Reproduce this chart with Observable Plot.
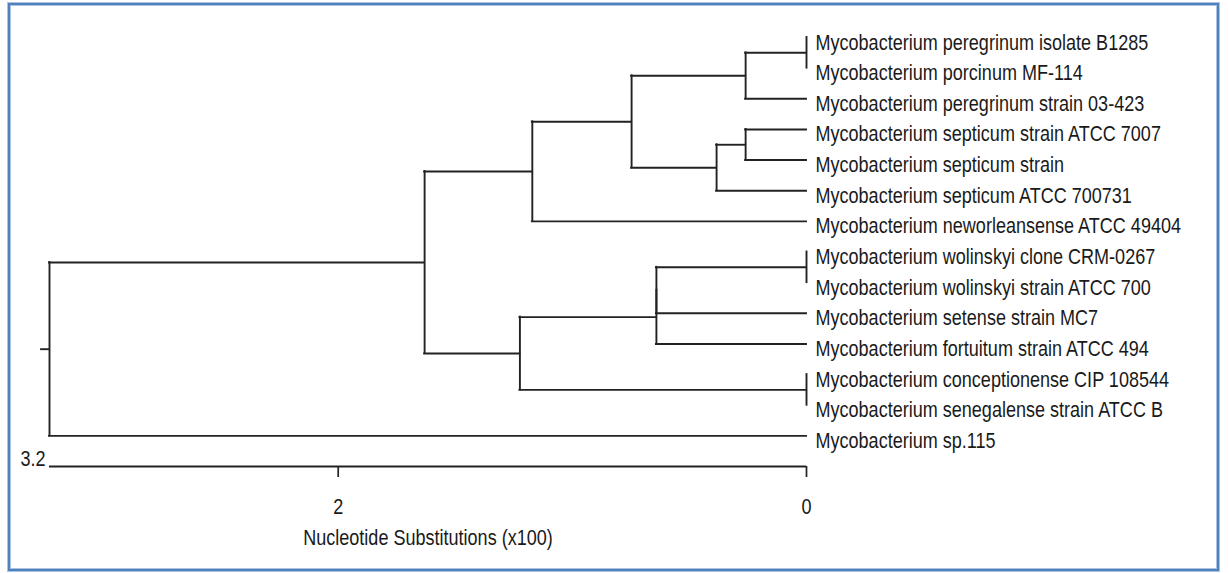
<!DOCTYPE html>
<html>
<head>
<meta charset="utf-8">
<script src="https://cdn.jsdelivr.net/npm/d3@7"></script>
<script src="https://cdn.jsdelivr.net/npm/@observablehq/plot@0.6"></script>
<style>
  html, body { margin: 0; padding: 0; background: #ffffff; }
  body { position: relative; width: 1229px; height: 573px; overflow: hidden; }
  #frame {
    position: absolute; left: 8px; top: 3px; width: 1211px; height: 568px;
    box-sizing: border-box; border: 2px solid #4f81bd;
    box-shadow: inset 0 0 0 1px #aac2e4, 0 0 0 1px #aac2e4;
  }
  #chart { position: absolute; left: 0; top: 0; }
</style>
</head>
<body>
<div id="frame"></div>
<div id="chart"></div>
<script>
// ---- Data ----
const taxa = [
  "Mycobacterium peregrinum isolate B1285",
  "Mycobacterium porcinum MF-114",
  "Mycobacterium peregrinum strain 03-423",
  "Mycobacterium septicum strain ATCC 7007",
  "Mycobacterium septicum strain",
  "Mycobacterium septicum ATCC 700731",
  "Mycobacterium neworleansense ATCC 49404",
  "Mycobacterium wolinskyi clone CRM-0267",
  "Mycobacterium wolinskyi strain ATCC 700",
  "Mycobacterium setense strain MC7",
  "Mycobacterium fortuitum strain ATCC 494",
  "Mycobacterium conceptionense CIP 108544",
  "Mycobacterium senegalense strain ATCC B",
  "Mycobacterium sp.115"
];
// internal nodes: children (numbers = leaf index, strings = node id) and depth (x100 substitutions)
const nodeIds      = ["n1", "n2", "n3", "n4", "n5", "n6", "n7", "n8", "n9", "n10", "n11", "n12", "root"];
const nodeChildren = [[0, 1], ["n1", 2], [3, 4], ["n3", 5], ["n2", "n4"], ["n5", 6],
                      [7, 8], ["n7", 9], ["n8", 10], [11, 12], ["n9", "n10"], ["n6", "n11"], ["n12", 13]];
const nodeDepths   = [0, 0.26, 0.26, 0.384, 0.747, 1.171, 0, 0.641, 0.641, 0, 1.224, 1.631, 3.233];
const rootStub     = 0.034;
const tickValues   = [2, 0];
const axisTitle    = "Nucleotide Substitutions (x100)";

// ---- Font choice (narrow sans if installed, else horizontally condensed Liberation Sans) ----
function hasFont(f) {
  const c = document.createElement("canvas").getContext("2d");
  const s = "Mycobacterium peregrinum 0123";
  c.font = "22px monospace"; const w1 = c.measureText(s).width;
  c.font = `22px '${f}', monospace`; const w2 = c.measureText(s).width;
  return w1 !== w2;
}
let fontFamily = "'Liberation Sans Narrow', 'Arial Narrow', sans-serif";
let squeeze = 1;
if (!hasFont("Liberation Sans Narrow") && !hasFont("Arial Narrow")) {
  fontFamily = "'Liberation Sans', Arial, sans-serif";
  squeeze = 0.82;
}
const fontSize = 22;

// ---- Build tree geometry ----
const pos = new Map();
taxa.forEach((t, i) => pos.set(i, {x: 0, y: i}));
const verticals = [];
const horizontals = [];
nodeIds.forEach((id, k) => {
  const kids = nodeChildren[k].map(c => pos.get(c));
  const d = nodeDepths[k];
  const ys = kids.map(p => p.y);
  const y = (ys[0] + ys[ys.length - 1]) / 2;
  pos.set(id, {x: d, y});
  verticals.push({x: d, y1: Math.min(...ys), y2: Math.max(...ys)});
  kids.forEach(p => { if (p.x !== d) horizontals.push({y: p.y, x1: d, x2: p.x}); });
});
const root = pos.get("root");
horizontals.push({y: root.y, x1: root.x + rootStub, x2: root.x});
const treeHeight = root.x;
const leaves = taxa.map((name, i) => ({name, y: i}));

const ink = "#222222";
const textInk = "#1a1a1a";
const chart = Plot.plot({
  width: 1229,
  height: 573,
  marginLeft: 49,
  marginRight: 423,
  marginTop: 37,
  marginBottom: 107,
  style: {background: "transparent", fontFamily, fontSize: fontSize + "px", color: ink},
  x: {domain: [treeHeight, 0]},
  y: {domain: [0, 14], reverse: true, axis: null},
  marks: [
    Plot.ruleX(verticals, {x: "x", y1: "y1", y2: "y2", stroke: ink, strokeWidth: 1.9, strokeLinecap: "square"}),
    Plot.ruleY(horizontals, {y: "y", x1: "x1", x2: "x2", stroke: ink, strokeWidth: 1.9, strokeLinecap: "square"}),
    Plot.text(leaves, {x: 0, y: "y", text: "name", textAnchor: "start", dx: 9, dy: 5,
      fill: textInk, fontSize, fontFamily}),
    // scale bar
    Plot.ruleY([14], {x1: treeHeight, x2: 0, stroke: ink, strokeWidth: 1.9}),
    Plot.axisX({ticks: tickValues, tickFormat: d3.format("d"), tickSize: 11, tickPadding: 21,
      label: null, fontSize, stroke: ink, strokeWidth: 1.7, fill: textInk}),
    Plot.text([d3.format(".1f")(treeHeight)], {x: treeHeight, y: 14, textAnchor: "end", dx: -4, dy: -8,
      fill: textInk, fontSize, fontFamily}),
    Plot.text([axisTitle], {frameAnchor: "bottom", dy: 78, fill: textInk, fontSize, fontFamily})
  ]
});

// condense glyphs horizontally (Arial Narrow look) without moving text anchors
if (squeeze !== 1) {
  d3.select(chart).selectAll("text").each(function() {
    const t = d3.select(this);
    const tr = t.attr("transform") || "";
    const x = +(t.attr("x") || 0);
    t.attr("transform", (tr + " scale(" + squeeze + ",1)").trim());
    if (x) t.attr("x", x / squeeze);
  });
}
document.getElementById("chart").appendChild(chart);
</script>
</body>
</html>
